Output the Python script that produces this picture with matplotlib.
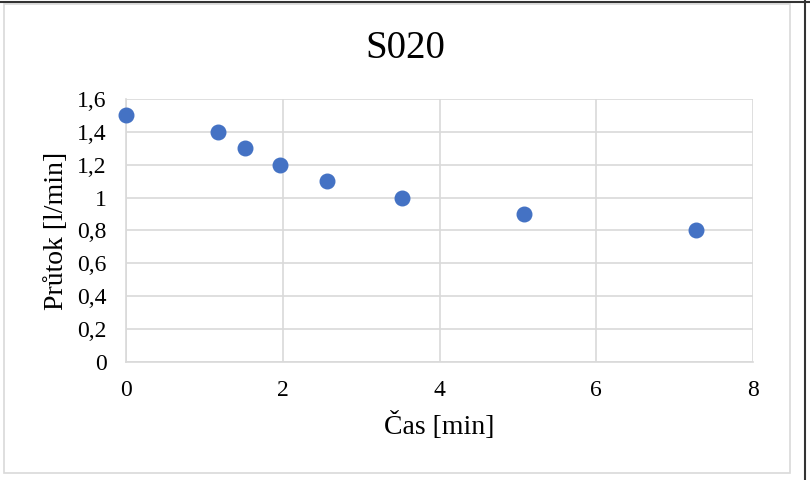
import matplotlib
matplotlib.use('Agg')
from matplotlib import pyplot as plt
from matplotlib.lines import Line2D
from matplotlib.patches import Rectangle

# data
cas = [0, 1.18, 1.52, 1.97, 2.56, 3.52, 5.08, 7.27]
prutok = [1.5, 1.4, 1.3, 1.2, 1.1, 1.0, 0.9, 0.8]
x_ticks = [0, 2, 4, 6, 8]
y_ticks = [0, 0.2, 0.4, 0.6, 0.8, 1.0, 1.2, 1.4, 1.6]
y_labels = ['0', '0,2', '0,4', '0,6', '0,8', '1', '1,2', '1,4', '1,6']

plt.rcParams['font.family'] = ['Liberation Serif', 'DejaVu Serif']

fig = plt.figure(figsize=(8.1, 4.8), dpi=100)
ax = fig.add_axes([126/810, 1 - 362/480, (753 - 126)/810, (362 - 99)/480])

# chart frame like the document crop
fig.patches.append(Rectangle((4/810, 1 - 473/480), 786/810, 469/480,
                             transform=fig.transFigure, fill=False,
                             edgecolor='#D9D9D9', linewidth=1.2))
fig.lines.append(Line2D([0, 1], [1 - 2/480, 1 - 2/480], transform=fig.transFigure,
                        color='#333333', linewidth=1.5))
fig.lines.append(Line2D([805/810, 805/810], [0, 1], transform=fig.transFigure,
                        color='#333333', linewidth=1.5))

ax.scatter(cas, prutok, s=110, color='#4472C4', zorder=3, clip_on=False)

ax.set_xlim(0, 8)
ax.set_ylim(0, 1.6)
ax.set_xticks(x_ticks)
ax.set_yticks(y_ticks)
ax.set_yticklabels(y_labels)
ax.grid(True, color='#D9D9D9', linewidth=1.2)
ax.set_axisbelow(True)
for s in ax.spines.values():
    s.set_visible(False)
ax.spines['left'].set_visible(True)
ax.spines['bottom'].set_visible(True)
ax.spines['left'].set_color('#D9D9D9')
ax.spines['bottom'].set_color('#D9D9D9')
ax.spines['left'].set_linewidth(1.2)
ax.spines['bottom'].set_linewidth(1.2)
ax.tick_params(length=0, labelsize=17)
ax.tick_params(axis='y', pad=14)
ax.tick_params(axis='x', pad=13)

ax.set_xlabel('Čas [min]', fontsize=20, labelpad=8)
ax.set_ylabel('Průtok [l/min]', fontsize=20, labelpad=6)
fig.text(0.5, 1 - 48/480, 'S020', fontsize=28, ha='center', va='center')

fig.savefig('out.png', dpi=100)
